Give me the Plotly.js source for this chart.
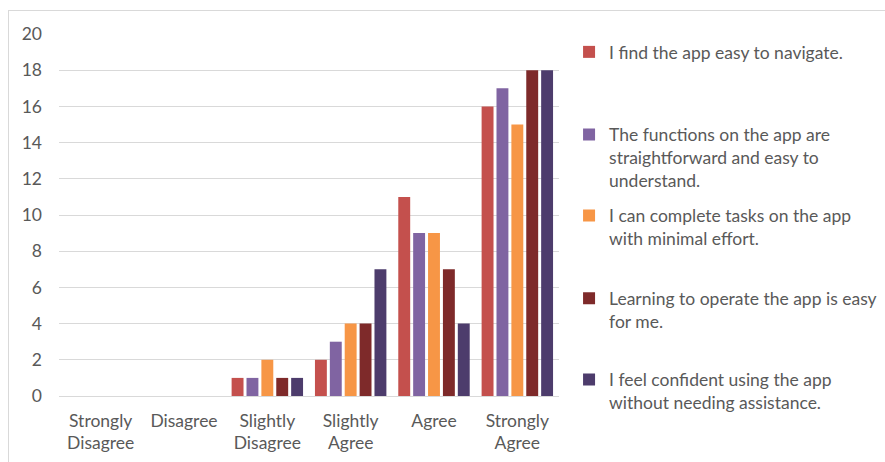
<!DOCTYPE html>
<html>
<head>
<meta charset="utf-8">
<script src="https://cdn.plot.ly/plotly-3.0.1.min.js"></script>
<style>
  html, body { margin: 0; padding: 0; background: #ffffff; }
  #wrap { position: relative; width: 885px; height: 462px; overflow: hidden; }
  #chart { position: absolute; left: 0; top: 0; width: 885px; height: 462px; }
  #frame { position: absolute; left: 8px; top: 10px; width: 900px; height: 470px;
           border-left: 1.5px solid #d9d9d9; border-top: 1.5px solid #d9d9d9; pointer-events: none; }
</style>
</head>
<body>
<div id="wrap">
  <div id="chart"></div>
  <div id="frame"></div>
</div>
<script>
// Likert response categories (x axis)
const categories = ['Strongly<br>Disagree', 'Disagree', 'Slightly<br>Disagree', 'Slightly<br>Agree', 'Agree', 'Strongly<br>Agree'];

// Statement labels (legend)
const statements = [
  'I find the app easy to navigate.',
  'The functions on the app are<br>straightforward and easy to<br>understand.',
  'I can complete tasks on the app<br>with minimal effort.',
  'Learning to operate the app is easy<br>for me.',
  'I feel confident using the app<br>without needing assistance.'
];

// Response counts per statement, one value per category
const navigateEasy    = [0, 0, 1, 2, 11, 16];
const functionsClear  = [0, 0, 1, 3, 9, 17];
const minimalEffort   = [0, 0, 2, 4, 9, 15];
const easyToLearn     = [0, 0, 1, 4, 7, 18];
const confidentAlone  = [0, 0, 1, 7, 4, 18];

const yTicks = [0, 2, 4, 6, 8, 10, 12, 14, 16, 18, 20];

const seriesValues = [navigateEasy, functionsClear, minimalEffort, easyToLearn, confidentAlone];
const seriesColors = ['#c4504d', '#8064a2', '#f79646', '#7e2a2a', '#4d3c6c'];

// One legend per statement so each entry can sit at its own height
const legendIds = ['legend', 'legend2', 'legend3', 'legend4', 'legend5'];
const legendTops = [0.9264, 0.7478, 0.5723, 0.3931, 0.2173];

const font = { family: 'Lato, "Liberation Sans", sans-serif', size: 17.5, color: '#595959' };

const traces = seriesValues.map((vals, i) => ({
  type: 'bar',
  x: categories,
  y: vals,
  name: statements[i],
  legend: legendIds[i],
  marker: { color: seriesColors[i], line: { width: 0 } },
  hoverinfo: 'x+y+name'
}));

const layout = {
  width: 885,
  height: 462,
  margin: { l: 59, r: 326, t: 34, b: 66, autoexpand: false },
  paper_bgcolor: '#ffffff',
  plot_bgcolor: '#ffffff',
  font: font,
  barmode: 'group',
  bargap: 0.107,
  bargroupgap: 0.2,
  xaxis: {
    type: 'category',
    showgrid: false,
    showline: false,
    zeroline: false,
    ticks: '',
    tickfont: font,
    ticklabelstandoff: 12,
    fixedrange: true
  },
  yaxis: {
    range: [0, 20],
    tickvals: yTicks,
    ticktext: yTicks.map(String),
    showgrid: true,
    gridcolor: '#d9d9d9',
    gridwidth: 1,
    zeroline: true,
    zerolinecolor: '#d9d9d9',
    zerolinewidth: 1,
    showline: false,
    ticks: '',
    tickfont: font,
    ticklabelstandoff: 16,
    fixedrange: true
  },
  showlegend: true
};

legendIds.forEach((id, i) => {
  layout[id] = {
    xref: 'container',
    yref: 'container',
    x: 0.643,
    xanchor: 'left',
    y: legendTops[i],
    yanchor: 'top',
    valign: 'top',
    bgcolor: 'rgba(0,0,0,0)',
    borderwidth: 0,
    font: font,
    itemclick: false,
    itemdoubleclick: false
  };
});

Plotly.newPlot('chart', traces, layout, { displayModeBar: false, staticPlot: true });
</script>
</body>
</html>
